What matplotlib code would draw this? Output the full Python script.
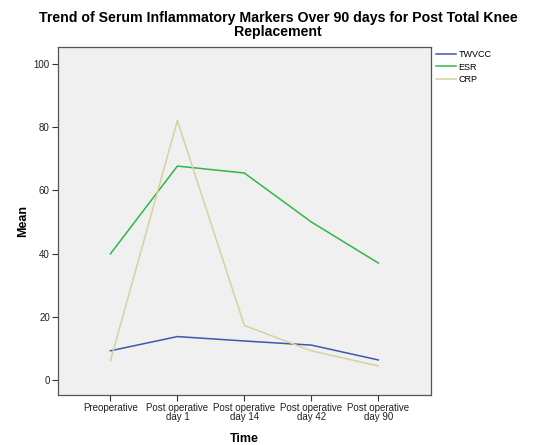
import matplotlib
matplotlib.use("Agg")
import matplotlib.pyplot as plt

# データ
time_labels = ["Preoperative", "Post operative\nday 1", "Post operative\nday 14",
               "Post operative\nday 42", "Post operative\nday 90"]
twvcc = [9.2, 13.7, 12.3, 11.0, 6.3]
esr   = [39.9, 67.7, 65.5, 50.0, 37.0]
crp   = [6.0, 82.1, 17.2, 9.2, 4.4]

series_names  = ["TWVCC", "ESR", "CRP"]
series_colors = ["#3e58ac", "#2eb848", "#d6d29e"]

plt.rcParams["font.family"] = ["Liberation Sans", "DejaVu Sans"]

fig = plt.figure(figsize=(5.35, 4.45), dpi=100)
ax = fig.add_axes([0.1075, 0.1124, 0.6972, 0.7826])
ax.set_facecolor("#f0f0f0")

x = list(range(len(time_labels)))
for vals, name, col in zip([twvcc, esr, crp], series_names, series_colors):
    ax.plot(x, vals, color=col, linewidth=1.1, label=name)

ax.set_xlim(-0.79, 4.78)
ax.set_ylim(-4.8, 105.5)
ax.set_xticks(x)
ax.set_xticklabels(time_labels, fontsize=7, linespacing=0.95)
ax.set_yticks(range(0, 101, 20))
ax.tick_params(axis="both", labelsize=7, length=4, width=0.8, color="#333333",
               labelcolor="#222222", pad=1.5)
for sp in ax.spines.values():
    sp.set_color("#555555")
    sp.set_linewidth(0.9)

ax.set_ylabel("Mean", fontsize=9, fontweight="bold", labelpad=3)
ax.set_xlabel("Time", fontsize=9, fontweight="bold", labelpad=8)

fig.text(0.52, 0.944, "Trend of Serum Inflammatory Markers Over 90 days for Post Total Knee\nReplacement",
         ha="center", va="center", fontsize=10.2, fontweight="bold", linespacing=1.05)

ax.legend(loc="upper left", bbox_to_anchor=(1.0, 1.005), frameon=False, fontsize=6.5,
          handlelength=2.2, handletextpad=0.3, labelspacing=0.35, borderaxespad=0.2)

plt.savefig("out.png", dpi=100)
plt.close()
